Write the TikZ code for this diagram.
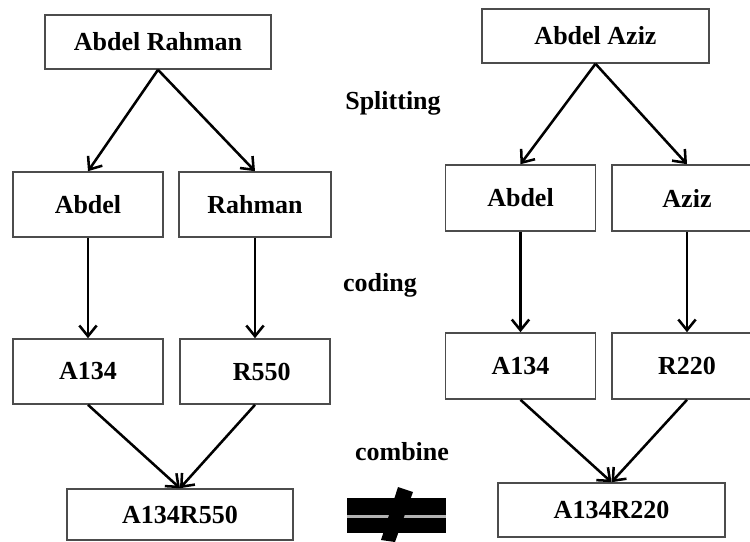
\documentclass[tikz,border=0pt]{standalone}
\usepackage{fontspec}
\setmainfont{Liberation Serif}
\usepackage{tikz}
\usetikzlibrary{arrows.meta}
\tikzstyle{box} = [rectangle, draw=black!70, line width=1.2pt, minimum
width=112.5pt, minimum height=48.75pt, inner sep=0pt, text centered,
font=\bfseries\fontsize{19.5}{22}\selectfont]
\tikzstyle{stage} = [inner sep=0pt, font=\bfseries\fontsize{19.5}{22}\selectfont]
\tikzstyle{arrow} =
[line width=1.9pt, -{Straight Barb[length=8pt,width=13pt]}]

\begin{document}
\begin{tikzpicture}[x=0.75pt, y=-0.75pt]
\useasboundingbox (0,0) rectangle (750,542);
\clip (0,0) rectangle (750,542);

% left name
\node(nameL)[box, minimum width=169.5pt, minimum height=40.5pt] at (158,42){Abdel Rahman};
\node(firstL)[box] at (88,204.5){Abdel};
\node(lastL)[box, minimum width=114pt] at (255,204.5){Rahman};
\node(codeFirstL)[box] at (88,371.5){A134};
\node(codeLastL)[box] at (255,371.5){\hspace{10pt}R550};
\node(codeL)[box, minimum width=169.5pt, minimum height=38.25pt] at (180,514.5){A134R550};

% right name
\node(nameR)[box, minimum width=170.25pt, minimum height=40.5pt] at (595.5,36){Abdel Aziz};
\node(firstR)[box, minimum height=49.5pt] at (520.5,198){Abdel};
\node(lastR)[box, minimum height=49.5pt] at (687,198){Aziz};
\node(codeFirstR)[box, minimum height=49.5pt] at (520.5,366){A134};
\node(codeLastR)[box, minimum height=49.5pt] at (687,366){R220};
\node(codeR)[box, minimum width=170.25pt, minimum height=40.5pt] at (611.5,510){A134R220};

% stages
\node(split)[stage] at (393,103){Splitting};
\node(coding)[stage] at (380,285){coding};
\node(combine)[stage] at (402,452){combine};

\draw[arrow](nameL.south) -- (firstL.north);
\draw[arrow](nameL.south) -- (lastL.north);
\draw[arrow](firstL) -- (codeFirstL);
\draw[arrow](lastL) -- (codeLastL);
\draw[arrow](codeFirstL.south) -- (codeL.north);
\draw[arrow](codeLastL.south) -- (codeL.north);

\draw[arrow](nameR.south) -- (firstR.north);
\draw[arrow](nameR.south) -- (lastR.north);
\draw[arrow](firstR) -- (codeFirstR);
\draw[arrow](lastR) -- (codeLastR);
\draw[arrow](codeFirstR.south) -- (codeR.north);
\draw[arrow](codeLastR.south) -- (codeR.north);

% not equal
\fill (347,498) rectangle (446,515);
\fill (347,518) rectangle (446,533);
\fill[black!30] (347,515) rectangle (446,518);
\fill (398,487) -- (413,492) -- (395,542) -- (381,540) -- cycle;

\end{tikzpicture}
\end{document}
